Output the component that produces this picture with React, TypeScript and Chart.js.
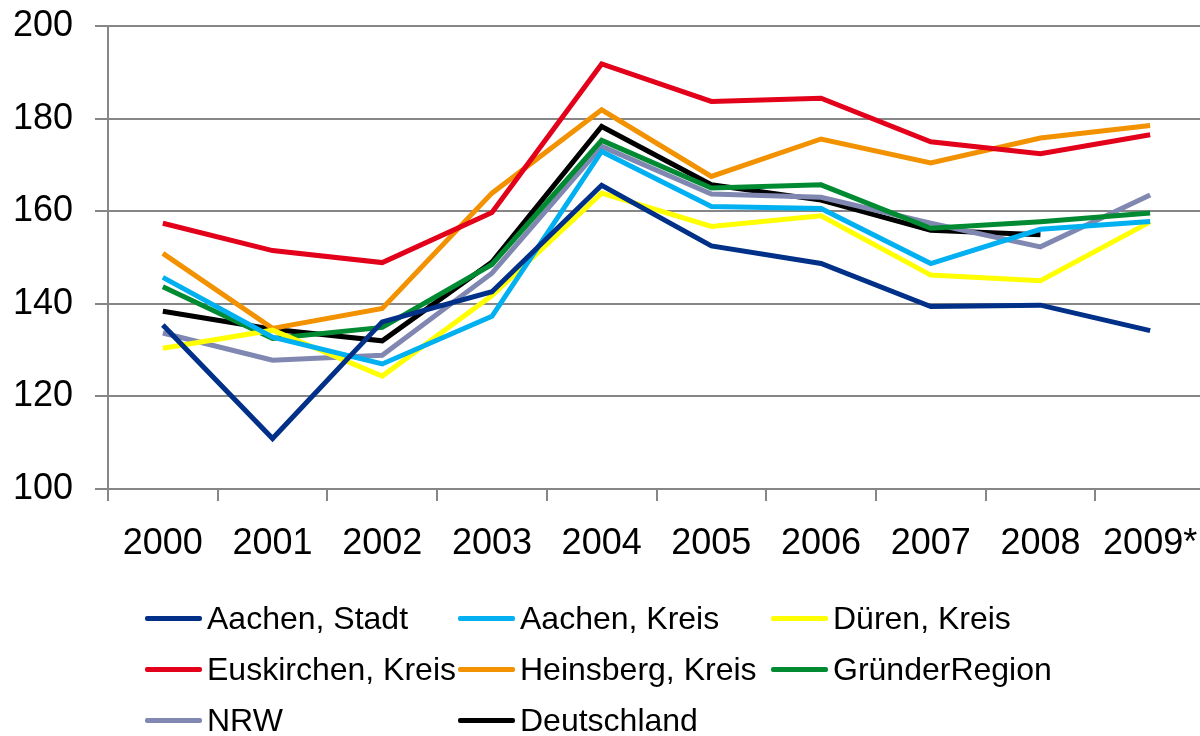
import React, { useEffect, useRef } from "react";
import { Chart, registerables } from "chart.js";

Chart.register(...registerables);

const categories = ["2000", "2001", "2002", "2003", "2004", "2005", "2006", "2007", "2008", "2009*"];
const yTicks = [100, 120, 140, 160, 180, 200];

const aachenStadt = [135.4, 110.9, 136.1, 142.6, 165.6, 152.5, 148.7, 139.4, 139.7, 134.2];
const aachenKreis = [145.7, 132.8, 127.0, 137.3, 172.9, 161.0, 160.6, 148.7, 156.1, 157.8];
const duerenKreis = [130.4, 134.3, 124.4, 141.8, 163.9, 156.7, 159.0, 146.2, 145.0, 157.7];
const euskirchenKreis = [157.4, 151.5, 148.9, 159.7, 191.8, 183.7, 184.4, 175.0, 172.4, 176.5];
const heinsbergKreis = [150.9, 134.7, 139.0, 163.9, 181.9, 167.5, 175.6, 170.4, 175.8, 178.5];
const gruenderRegion = [143.7, 132.5, 134.9, 148.5, 175.3, 165.0, 165.7, 156.3, 157.7, 159.6];
const nrw = [133.7, 127.8, 128.9, 146.6, 174.0, 163.7, 163.0, 157.4, 152.3, 163.5];
const deutschland = [138.4, 134.5, 132.0, 149.0, 178.3, 165.7, 162.4, 155.9, 154.9, null];

const seriesNames = [
  "Aachen, Stadt",
  "Aachen, Kreis",
  "Düren, Kreis",
  "Euskirchen, Kreis",
  "Heinsberg, Kreis",
  "GründerRegion",
  "NRW",
  "Deutschland",
];
const seriesData = [
  aachenStadt,
  aachenKreis,
  duerenKreis,
  euskirchenKreis,
  heinsbergKreis,
  gruenderRegion,
  nrw,
  deutschland,
];
const seriesColors = [
  "#003087",
  "#00B0F0",
  "#FFFF00",
  "#E2001A",
  "#F39200",
  "#008A32",
  "#8088B2",
  "#000000",
];

const FONT = "'Liberation Sans', Arial, sans-serif";
const GRID = "#868686";

// legend layout (3 columns)
const legendCols = [145, 458, 771];
const legendRows = [618, 669, 720];

export default function App() {
  const canvasRef = useRef<HTMLCanvasElement | null>(null);

  useEffect(() => {
    const canvas = canvasRef.current;
    if (!canvas) return;
    const chart = new Chart(canvas, {
      type: "line",
      data: {
        labels: categories,
        datasets: seriesNames.map((name, i) => ({
          label: name,
          data: seriesData[i],
          borderColor: seriesColors[i],
          backgroundColor: seriesColors[i],
          borderWidth: 5,
          pointRadius: 0,
          pointHoverRadius: 0,
          tension: 0,
          fill: false,
          spanGaps: false,
        })),
      },
      options: {
        responsive: false,
        animation: false,
        devicePixelRatio: 1,
        layout: { padding: { top: 26, left: 0, right: 5, bottom: 177 } },
        plugins: { legend: { display: false }, tooltip: { enabled: false } },
        scales: {
          x: {
            type: "category",
            offset: true,
            grid: {
              offset: true,
              drawOnChartArea: false,
              drawTicks: true,
              tickLength: 12,
              color: GRID,
              lineWidth: 2,
            },
            border: { display: true, color: GRID, width: 2 },
            ticks: {
              color: "#000",
              font: { family: FONT, size: 36 },
              padding: 21,
              maxRotation: 0,
              autoSkip: false,
            },
            afterFit: (scale: any) => {
              scale.height = 70;
              scale.paddingLeft = 0;
              scale.paddingRight = 0;
            },
          },
          y: {
            min: 100,
            max: 200,
            afterBuildTicks: (scale: any) => {
              scale.ticks = yTicks.map((v) => ({ value: v }));
            },
            grid: {
              color: GRID,
              lineWidth: 2,
              drawTicks: true,
              tickLength: 13,
            },
            border: { display: true, color: GRID, width: 2 },
            ticks: {
              color: "#000",
              font: { family: FONT, size: 36 },
              padding: 22,
            },
            afterFit: (scale: any) => {
              scale.width = 108;
              scale.paddingTop = 0;
              scale.paddingBottom = 0;
            },
          },
        },
      },
    });
    return () => chart.destroy();
  }, []);

  return (
    <div
      style={{
        position: "fixed",
        left: 0,
        top: 0,
        width: 1200,
        height: 736,
        overflow: "hidden",
        background: "#fff",
      }}
    >
      <canvas ref={canvasRef} width={1210} height={736} style={{ display: "block" }} />
      {seriesNames.map((name, i) => {
        const col = i % 3;
        const row = Math.floor(i / 3);
        return (
          <div
            key={name}
            style={{
              position: "absolute",
              left: legendCols[col],
              top: legendRows[row] - 20,
              height: 40,
              display: "flex",
              alignItems: "center",
              fontFamily: FONT,
              fontSize: 32,
              color: "#000",
              whiteSpace: "nowrap",
            }}
          >
            <span
              style={{
                display: "inline-block",
                width: 57,
                height: 5,
                borderRadius: 2,
                background: seriesColors[i],
                marginRight: 5,
              }}
            />
            <span>{name}</span>
          </div>
        );
      })}
    </div>
  );
}
